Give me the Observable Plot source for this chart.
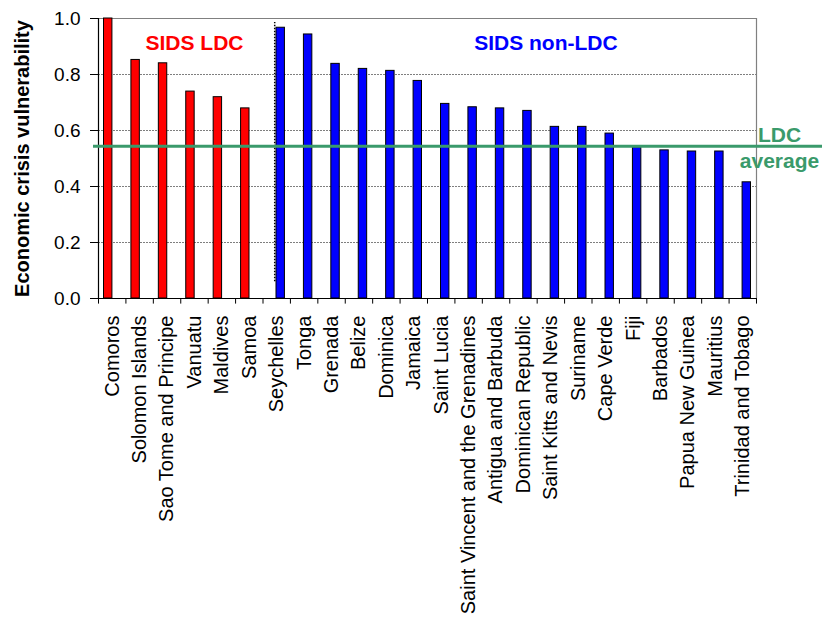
<!DOCTYPE html>
<html>
<head>
<meta charset="utf-8">
<script src="https://cdn.jsdelivr.net/npm/d3@7"></script>
<script src="https://cdn.jsdelivr.net/npm/@observablehq/plot@0.6"></script>
<style>
  html, body { margin: 0; padding: 0; background: #fff; }
  #chart svg { display: block; }
</style>
</head>
<body>
<div id="chart"></div>
<script>
// ---- data ----
const ldcCountries = ["Comoros", "Solomon Islands", "Sao Tome and Principe", "Vanuatu", "Maldives", "Samoa"];
const ldcValues = [1.0, 0.852, 0.840, 0.739, 0.719, 0.679];
const nonLdcCountries = ["Seychelles", "Tonga", "Grenada", "Belize", "Dominica", "Jamaica", "Saint Lucia",
  "Saint Vincent and the Grenadines", "Antigua and Barbuda", "Dominican Republic", "Saint Kitts and Nevis",
  "Suriname", "Cape Verde", "Fiji", "Barbados", "Papua New Guinea", "Mauritius", "Trinidad and Tobago"];
const nonLdcValues = [0.967, 0.943, 0.838, 0.820, 0.813, 0.777, 0.695, 0.683, 0.679, 0.670, 0.613,
  0.613, 0.589, 0.540, 0.529, 0.525, 0.525, 0.415];
const ldcAverage = 0.544;
const yTicks = [0, 0.2, 0.4, 0.6, 0.8, 1.0];
const gridTicks = [0.2, 0.4, 0.6, 0.8];
const yTitle = "Economic crisis vulnerability";
const groupLabels = ["SIDS LDC", "SIDS non-LDC"];
const avgLabelLines = ["LDC", "average"];

// ---- build tables ----
const ldc = ldcCountries.map((c, i) => ({country: c, value: ldcValues[i]}));
const nonLdc = nonLdcCountries.map((c, i) => ({country: c, value: nonLdcValues[i]}));
const allCountries = ldcCountries.concat(nonLdcCountries);

const FONT = "'Liberation Sans', Arial, sans-serif";
const GREEN = "#3a9a6b";
const W = 822, H = 630;
const mL = 98, mR = 66, mT = 18, mB = 332;
const step = (W - mL - mR) / allCountries.length;

const chart = Plot.plot({
  width: W,
  height: H,
  marginLeft: mL,
  marginRight: mR,
  marginTop: mT,
  marginBottom: mB,
  style: {fontFamily: FONT, background: "#fff", overflow: "visible"},
  x: {type: "band", domain: allCountries, padding: 0, round: false, axis: null},
  y: {domain: [0, 1], nice: false, axis: null},
  marks: [
    // grid
    Plot.ruleY(gridTicks, {stroke: "#7f7f7f", strokeWidth: 1, strokeDasharray: "2,1"}),
    Plot.ruleY([1], {stroke: "#808080", strokeWidth: 1.2}),
    Plot.ruleX([allCountries[allCountries.length - 1]], {dx: step / 2, y1: 0, y2: 1, stroke: "#808080", strokeWidth: 1.2}),
    // separator
    Plot.ruleX([nonLdcCountries[0]], {dx: -2, y1: 0.06, y2: 0.986, stroke: "#000", strokeWidth: 1.5, strokeDasharray: "1.5,1.5"}),
    // bars
    Plot.barY(ldc, {x: "country", y: "value", fill: "#ff0000", stroke: "#000", strokeWidth: 1, insetLeft: 5.5, insetRight: 13.5}),
    Plot.barY(nonLdc, {x: "country", y: "value", fill: "#0000ff", stroke: "#000", strokeWidth: 1, insetLeft: 13.5, insetRight: 5.5}),
    // axes lines
    Plot.ruleY([0], {stroke: "#000", strokeWidth: 1.2, insetLeft: -1}),
    Plot.ruleX([allCountries[0]], {dx: -step / 2, y1: 0, y2: 1, stroke: "#000", strokeWidth: 1.2}),
    // x boundary ticks
    Plot.ruleX(allCountries, {dx: -step / 2, y1: 0, y2: -0.02, stroke: "#000", strokeWidth: 1}),
    Plot.ruleX([allCountries[allCountries.length - 1]], {dx: step / 2, y1: 0, y2: -0.02, stroke: "#000", strokeWidth: 1}),
    // y axis
    Plot.axisY(yTicks, {tickSize: 8, tickPadding: 10, tickFormat: d3.format(".1f"), fontSize: 19, fill: "#000", label: null}),
    // x labels
    Plot.text(allCountries, {x: d => d, frameAnchor: "bottom", rotate: -90, textAnchor: "end", lineAnchor: "middle",
      dy: 17, fontSize: 20, fill: "#000"}),
    // y title
    Plot.text([yTitle], {frameAnchor: "left", rotate: -90, dx: -76, fontSize: 20, fontWeight: "bold", fill: "#000",
      textAnchor: "middle", lineAnchor: "middle"}),
    // group labels
    Plot.text([groupLabels[0]], {x: () => ldcCountries[3], y: () => 0.9125, fontSize: 21, fontWeight: "bold", fill: "#ff0000", lineAnchor: "middle"}),
    Plot.text([groupLabels[1]], {x: () => nonLdcCountries[10], y: () => 0.9125, dx: -5, fontSize: 21, fontWeight: "bold", fill: "#0000ff", lineAnchor: "middle"}),
    // LDC average line
    Plot.ruleY([ldcAverage], {stroke: GREEN, strokeWidth: 3, insetLeft: -5, insetRight: -mR}),
    Plot.text([avgLabelLines[0]], {frameAnchor: "right", y: () => ldcAverage, dx: 23, dy: -10.5, fontSize: 21, fontWeight: "bold", fill: GREEN, textAnchor: "middle", lineAnchor: "middle"}),
    Plot.text([avgLabelLines[1]], {frameAnchor: "right", y: () => ldcAverage, dx: 23, dy: 15.5, fontSize: 21, fontWeight: "bold", fill: GREEN, textAnchor: "middle", lineAnchor: "middle"})
  ]
});
document.getElementById("chart").appendChild(chart);
</script>
</body>
</html>
